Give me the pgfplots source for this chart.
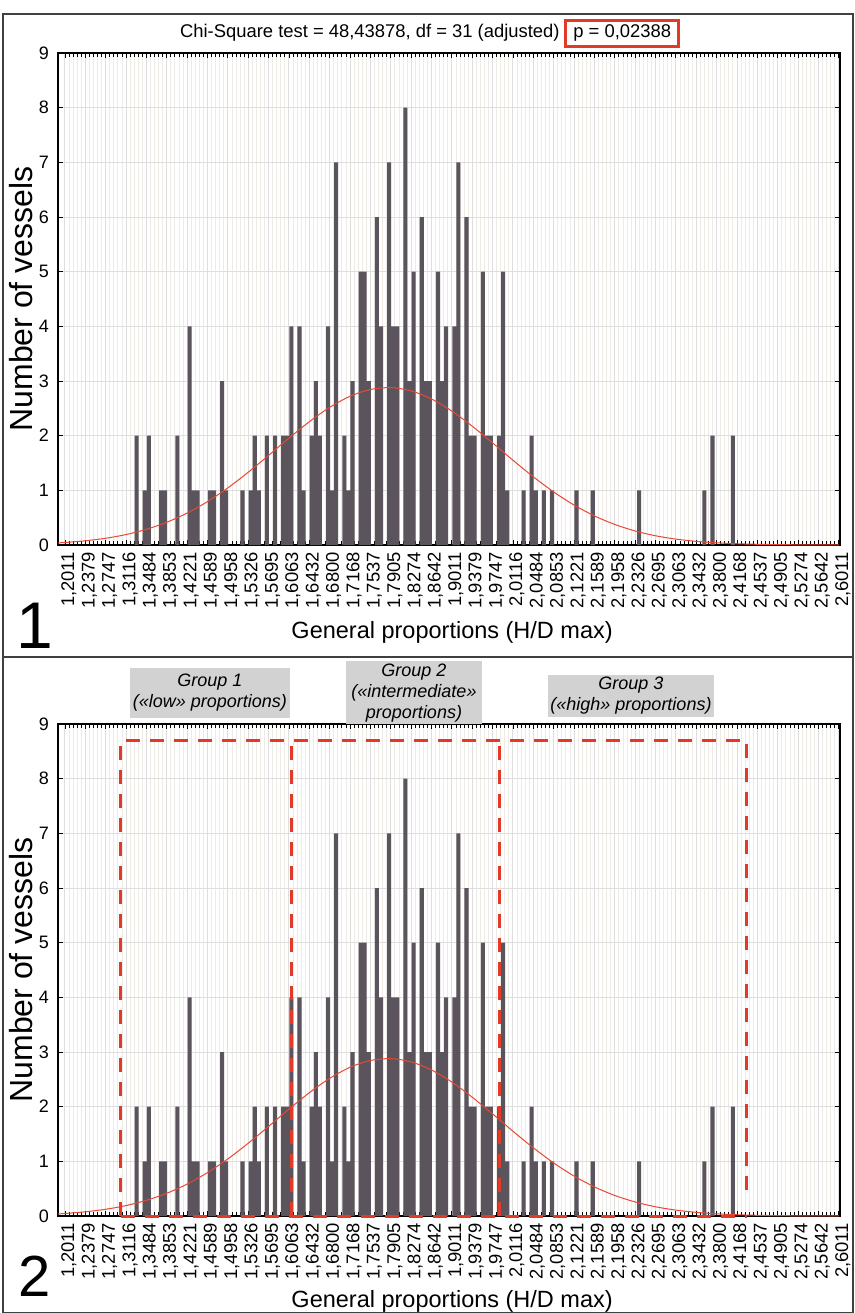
\documentclass[border=0pt]{standalone}
\usepackage{fontspec}
\setmainfont{Liberation Sans}
\usepackage{pgfplots}
\usepackage{pgfplotstable}
\pgfplotsset{compat=1.18}

\definecolor{barc}{RGB}{92,84,92}
\definecolor{fitred}{RGB}{232,72,52}
\definecolor{boxred}{RGB}{226,58,38}
\definecolor{gridmin}{RGB}{238,235,231}
\definecolor{gridmaj}{RGB}{222,222,222}
\definecolor{grpgray}{RGB}{210,210,210}

% bin index k (x = 1,2011 + k*0,0073684), number of vessels
\pgfplotstableread{
k h
17.6 2
19.6 1
20.6 2
23.6 1
24.6 1
27.6 2
30.6 4
31.6 1
32.6 1
35.6 1
36.6 1
38.6 3
39.6 1
43.6 1
45.6 1
46.6 2
47.6 1
49.6 2
51.6 2
53.6 2
54.6 2
55.6 4
57.6 4
58.6 1
60.6 2
61.6 3
62.6 2
64.6 4
65.6 1
66.6 7
68.6 2
69.6 1
70.6 3
72.6 5
73.6 5
74.6 3
76.6 6
77.6 4
79.6 7
80.6 4
81.6 4
83.6 8
84.6 3
85.6 5
87.6 6
88.6 3
89.6 3
91.6 5
92.6 3
93.6 4
95.6 4
96.6 7
98.6 6
99.6 2
100.6 2
102.6 5
103.6 2
104.6 2
106.6 2
107.6 5
108.6 1
112.6 1
114.6 2
115.6 1
117.6 1
119.6 1
125.6 1
129.6 1
141 1
157 1
159 2
164 2
}\bars

% fitted normal curve
\pgfplotstableread{
k f
-1.7 0.039
0 0.046
5 0.077
10 0.123
15 0.191
20 0.287
25 0.416
30 0.584
35 0.794
40 1.045
45 1.331
50 1.639
55 1.955
60 2.255
65 2.518
70 2.721
75 2.845
80 2.879
85 2.819
90 2.671
95 2.450
100 2.174
105 1.867
110 1.551
115 1.248
120 0.971
125 0.731
130 0.533
135 0.376
140 0.257
145 0.169
150 0.108
155 0.067
160 0.040
165 0.023
170 0.013
175 0.007
180 0.004
190 0.001
}\fit

\pgfplotsset{histo/.style={
  scale only axis, width=391pt, height=246pt,
  xmin=-1.7, xmax=190.3, ymin=0, ymax=9,
  xtick={0,5,...,190},
  xticklabels={{1,2011},{1,2379},{1,2747},{1,3116},{1,3484},{1,3853},{1,4221},{1,4589},{1,4958},{1,5326},{1,5695},{1,6063},{1,6432},{1,6800},{1,7168},{1,7537},{1,7905},{1,8274},{1,8642},{1,9011},{1,9379},{1,9747},{2,0116},{2,0484},{2,0853},{2,1221},{2,1589},{2,1958},{2,2326},{2,2695},{2,3063},{2,3432},{2,3800},{2,4168},{2,4537},{2,4905},{2,5274},{2,5642},{2,6011}},
  minor x tick num=4,
  ytick={0,...,9},
  /pgf/number format/assume math mode=true,
  grid=both,
  major grid style={gridmaj, line width=0.45pt},
  minor grid style={gridmin, line width=0.4pt},
  tick align=inside, tick pos=both,
  major tick length=2.5pt, minor tick length=1.8pt,
  tick style={black, line width=0.4pt},
  axis line style={black, line width=0.6pt},
  x tick label style={rotate=90, anchor=east, yshift=-2pt, font=\fontsize{9.2}{10}\selectfont},
  y tick label style={xshift=-1pt, font=\fontsize{9}{10}\selectfont},
  ylabel={Number of vessels},
  ylabel style={at={(axis description cs:-0.047,0.5)}, anchor=center, font=\fontsize{16}{18}\selectfont},
  xlabel={General proportions (H/D max)},
  xlabel style={anchor=center, font=\fontsize{11.75}{14}\selectfont},
  clip=false,
}}

\begin{document}
\begin{tikzpicture}
\path[use as bounding box] (0,0) rectangle (427.5pt,-656.5pt);
\fill[white] (0,0) rectangle (427.5pt,-656.5pt);

% top panel
\begin{axis}[histo, at={(29pt,-272.5pt)}, anchor=south west,
  xlabel style={at={(axis description cs:0.504,-0.177)}}]
\addplot[ybar, bar shift=0pt, bar width=1, fill=barc, draw=none] table[x=k,y=h]{\bars};
\addplot[fitred, line width=0.5pt, smooth, no marks] table[x=k,y=f]{\fit};
\end{axis}

% bottom panel
\begin{axis}[histo, at={(29pt,-608pt)}, anchor=south west,
  xlabel style={at={(axis description cs:0.504,-0.174)}}]
\addplot[ybar, bar shift=0pt, bar width=1, fill=barc, draw=none] table[x=k,y=h]{\bars};
\addplot[fitred, line width=0.5pt, smooth, no marks] table[x=k,y=f]{\fit};
\begin{scope}[boxred, line width=1.5pt, dash pattern=on 7pt off 5pt]
\draw (axis cs:13.75,0) -- (axis cs:13.75,8.69) -- (axis cs:167.4,8.69) -- (axis cs:167.4,0.3);
\draw (axis cs:13.75,0) -- (axis cs:167.4,0);
\draw (axis cs:55.7,0) -- (axis cs:55.7,8.69);
\draw (axis cs:106.8,0) -- (axis cs:106.8,8.69);
\end{scope}
\end{axis}

% title with framed p value
\node[anchor=base east, font=\fontsize{9.2}{11}\selectfont, inner sep=0pt] at (280pt,-18.5pt)
  {Chi-Square test = 48,43878, df = 31 (adjusted)};
\node[anchor=base west, font=\fontsize{9.2}{11}\selectfont, inner sep=0pt] at (286.5pt,-18.5pt)
  {p = 0,02388};
\draw[boxred, line width=1.5pt] (282.5pt,-10pt) rectangle (339pt,-23pt);

% group labels
\begin{scope}[font=\fontsize{9}{10.5}\selectfont\itshape]
\node[fill=grpgray, minimum width=80pt, minimum height=25pt, align=center, inner sep=1pt]
  at (105pt,-346.5pt) {Group 1\\(«low» proportions)};
\node[fill=grpgray, minimum width=68pt, minimum height=29.5pt, align=center, inner sep=1pt]
  at (207pt,-346.3pt) {Group 2\\(«intermediate»\\proportions)};
\node[fill=grpgray, minimum width=81pt, minimum height=20pt, align=center, inner sep=1pt]
  at (315.5pt,-348pt) {Group 3\\(«high» proportions)};
\end{scope}

% panel numbers
\node[anchor=base west, font=\fontsize{33}{33}\selectfont, inner sep=0pt] at (8pt,-324pt) {1};
\node[anchor=base west, font=\fontsize{29}{29}\selectfont, inner sep=0pt] at (9pt,-648pt) {2};

% frame
\draw[black!75, line width=0.6pt] (1.5pt,-7pt) rectangle (426.5pt,-656.5pt);
\draw[black!75, line width=0.6pt] (1.5pt,-328.5pt) -- (426.5pt,-328.5pt);
\end{tikzpicture}
\end{document}
